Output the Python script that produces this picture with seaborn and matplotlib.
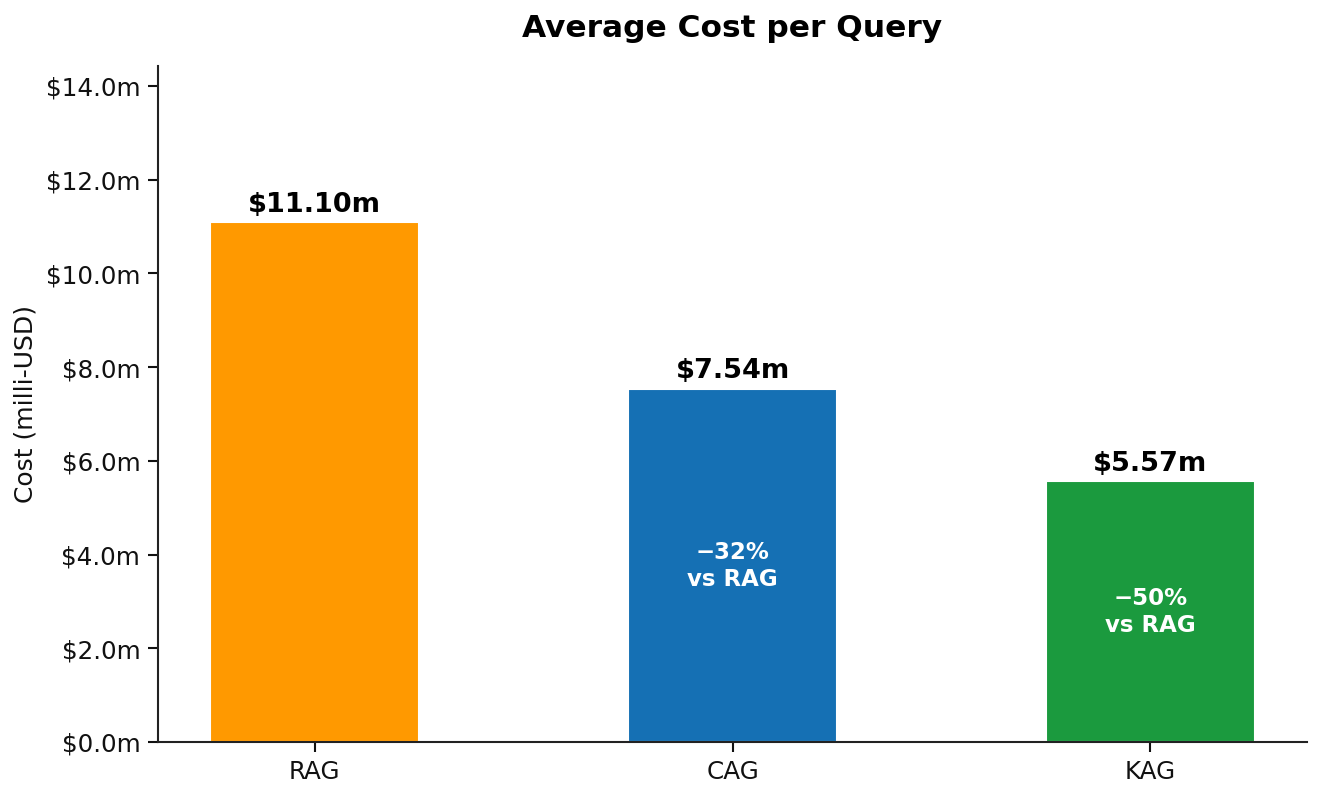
import numpy as np
import pandas as pd
import matplotlib
matplotlib.use('Agg')
import matplotlib.pyplot as plt
import seaborn as sns
from matplotlib.ticker import FuncFormatter

# ── Data ─────────────────────────────────────────────
methods = ['RAG', 'CAG', 'KAG']
cost_musd = [11.10, 7.54, 5.57]
bar_colors = ['#FF9900', '#1570B4', '#1B9A3E']
savings = [None, '\u221232%\nvs RAG', '\u221250%\nvs RAG']

df = pd.DataFrame({'method': methods, 'cost': cost_musd})

sns.set_style('white')
plt.rcParams['font.family'] = ['DejaVu Sans']
plt.rcParams.update({'text.color': 'black', 'axes.labelcolor': 'black',
                     'xtick.color': 'black', 'ytick.color': 'black'})

fig = plt.figure(figsize=(8.82, 5.31), dpi=150)
ax = fig.add_axes([0.1194, 0.0678, 0.8686, 0.8492])

sns.barplot(data=df, x='method', y='cost', hue='method', palette=bar_colors,
            width=0.5, saturation=1, legend=False, ax=ax)
ax.set_xlim(-0.375, 2.375)
ax.set_ylim(0, max(cost_musd) * 1.3)

for i, (v, note) in enumerate(zip(cost_musd, savings)):
    ax.text(i, v + 0.1, f"${v:.2f}m", ha='center', va='bottom',
            fontsize=13, fontweight='bold', color='black')
    if note:
        ax.text(i, v / 2, note, ha='center', va='center',
                fontsize=11, fontweight='bold', color='white', linespacing=1.2)

ax.yaxis.set_major_formatter(FuncFormatter(lambda y, _: f"${y:.1f}m"))
ax.set_yticks(np.arange(0, 15, 2))
ax.set_xlabel('')
ax.set_ylabel('Cost (milli-USD)', fontsize=12, color='#111111')
ax.set_title('Average Cost per Query', fontsize=15, fontweight='bold',
             pad=14, color='black')
ax.tick_params(axis='both', labelsize=11.8, length=5, width=1, left=True,
               bottom=True, colors='#111111')
sns.despine(ax=ax)
for s in ['left', 'bottom']:
    ax.spines[s].set_color('#222222')
    ax.spines[s].set_linewidth(1.0)

fig.savefig('out.png', dpi=150)
